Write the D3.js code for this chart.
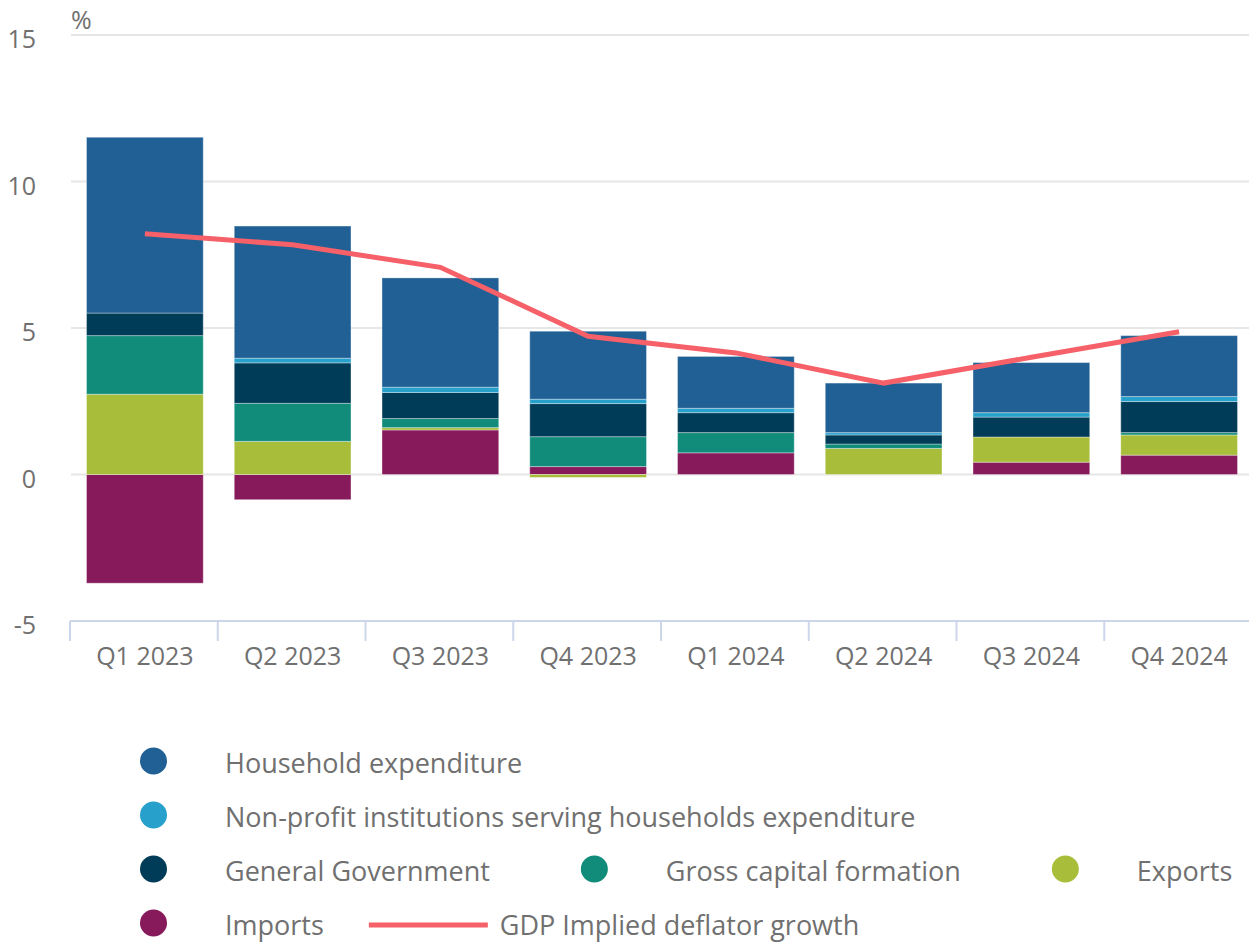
<!DOCTYPE html>
<html>
<head>
<meta charset="utf-8">
<script src="https://cdn.jsdelivr.net/npm/d3@7"></script>
<style>
  html, body { margin: 0; padding: 0; background: #fff; }
  svg { display: block; font-family: "Open Sans", sans-serif; }
</style>
</head>
<body>
<svg id="chart" width="1249" height="942"></svg>
<script>
const categories = ["Q1 2023", "Q2 2023", "Q3 2023", "Q4 2023", "Q1 2024", "Q2 2024", "Q3 2024", "Q4 2024"];
const household = [6.00, 4.51, 3.73, 2.32, 1.77, 1.69, 1.71, 2.08];
const npish     = [0.00, 0.16, 0.18, 0.15, 0.15, 0.08, 0.15, 0.17];
const government = [0.77, 1.38, 0.89, 1.13, 0.68, 0.31, 0.68, 1.06];
const gcf       = [2.00, 1.30, 0.31, 1.02, 0.69, 0.15, 0.00, 0.08];
const exportsV  = [2.74, 1.13, 0.08, -0.10, 0.00, 0.89, 0.86, 0.69];
const importsV  = [-3.71, -0.86, 1.52, 0.27, 0.74, 0.00, 0.42, 0.66];
const gdpDeflator = [8.22, 7.84, 7.07, 4.72, 4.15, 3.12, 4.00, 4.87];
const yTicks = [-5, 0, 5, 10, 15];

const barSeries = [
  { name: "Household expenditure", values: household, color: "#206095" },
  { name: "Non-profit institutions serving households expenditure", values: npish, color: "#27a0cc" },
  { name: "General Government", values: government, color: "#003c57" },
  { name: "Gross capital formation", values: gcf, color: "#118c7b" },
  { name: "Exports", values: exportsV, color: "#a8bd3a" },
  { name: "Imports", values: importsV, color: "#871a5b" }
];
const lineSeries = { name: "GDP Implied deflator growth", values: gdpDeflator, color: "#f66068" };

const svg = d3.select("#chart");
const textColor = "#707070";
const fontSize = 25;
const legendFontSize = 27;

const x = d3.scaleBand().domain(categories).range([70, 1252]).padding(0);
const y = d3.scaleLinear().domain([-5, 15]).range([621, 35]);

// gridlines
svg.append("g").selectAll("line").data(yTicks.filter(d => d !== -5)).join("line")
  .attr("x1", 71).attr("x2", 1249)
  .attr("y1", d => y(d)).attr("y2", d => y(d))
  .attr("stroke", "#e6e6e6").attr("stroke-width", 2);

// y labels
svg.append("g").selectAll("text").data(yTicks).join("text")
  .attr("x", 36).attr("y", d => y(d) + 13)
  .attr("text-anchor", "end")
  .attr("font-size", fontSize).attr("fill", textColor)
  .text(d => d);

svg.append("text").attr("x", 71).attr("y", 29)
  .attr("font-size", fontSize).attr("fill", textColor).text("%");

// stacked bars
const bw = x.bandwidth();
const barW = bw * 0.79;
const rects = [];
categories.forEach((c, i) => {
  let pos = 0, neg = 0;
  for (let s = barSeries.length - 1; s >= 0; s--) {
    const v = barSeries[s].values[i];
    if (!v) continue;
    let y0, y1;
    if (v > 0) { y0 = pos; y1 = pos + v; pos = y1; }
    else { y0 = neg + v; y1 = neg; neg = y0; }
    rects.push({ c, y0, y1, color: barSeries[s].color });
  }
});
svg.append("g").selectAll("rect").data(rects).join("rect")
  .attr("x", d => x(d.c) + (bw - barW) / 2 + 1)
  .attr("width", barW)
  .attr("y", d => y(d.y1))
  .attr("height", d => y(d.y0) - y(d.y1))
  .attr("fill", d => d.color)
  .attr("stroke", "#ffffff").attr("stroke-opacity", 0.35).attr("stroke-width", 1);

// x axis
const axisG = svg.append("g");
axisG.append("line").attr("x1", 70).attr("x2", 1252).attr("y1", 621).attr("y2", 621)
  .attr("stroke", "#ccd6eb").attr("stroke-width", 2);
axisG.selectAll("line.tick").data(categories).join("line").attr("class", "tick")
  .attr("x1", d => x(d)).attr("x2", d => x(d)).attr("y1", 621).attr("y2", 641)
  .attr("stroke", "#ccd6eb").attr("stroke-width", 2);
axisG.selectAll("text").data(categories).join("text")
  .attr("x", d => x(d) + bw / 2 + 1).attr("y", 665)
  .attr("text-anchor", "middle")
  .attr("font-size", fontSize).attr("fill", textColor)
  .text(d => d);

// line
const line = d3.line().x((d, i) => x(categories[i]) + bw / 2 + 1).y(d => y(d));
svg.append("path").datum(lineSeries.values)
  .attr("d", line).attr("fill", "none")
  .attr("stroke", lineSeries.color).attr("stroke-width", 5);

// legend (flowing)
const legendItems = barSeries.map(s => ({ name: s.name, color: s.color, type: "circle" }))
  .concat([{ name: lineSeries.name, color: lineSeries.color, type: "line" }]);
const leg = svg.append("g");
const symW = 119, gapText = 12, itemGap = 45, startX = 94, maxX = 1245;
let cx = startX, rowY = 761, rowH = 54;
legendItems.forEach(item => {
  const g = leg.append("g");
  const t = g.append("text").attr("font-size", legendFontSize).attr("fill", textColor).text(item.name);
  const tw = t.node().getComputedTextLength();
  const w = symW + gapText + tw;
  if (cx !== startX && cx + w > maxX) { cx = startX; rowY += rowH; }
  t.attr("x", cx + symW + gapText).attr("y", rowY + 12);
  if (item.type === "circle") {
    g.append("circle").attr("cx", cx + symW / 2).attr("cy", rowY).attr("r", 13.5).attr("fill", item.color);
  } else {
    g.append("line").attr("x1", cx).attr("x2", cx + symW).attr("y1", rowY + 2).attr("y2", rowY + 2)
      .attr("stroke", item.color).attr("stroke-width", 5);
  }
  cx += w + itemGap;
});
</script>
</body>
</html>
